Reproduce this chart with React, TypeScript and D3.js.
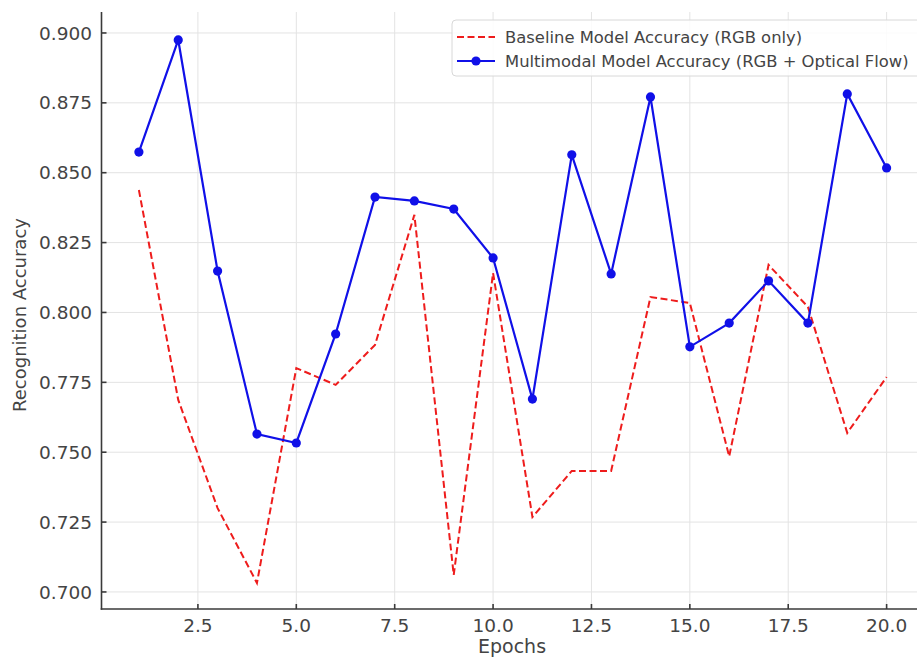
import React, { useEffect, useRef } from 'react';
import * as d3 from 'd3';

const epochs = d3.range(1, 21);
const baseline = [0.8438, 0.7687, 0.730, 0.7032, 0.7801, 0.7741, 0.7884, 0.8349, 0.7061, 0.8141,
  0.7268, 0.7433, 0.7433, 0.8055, 0.8034, 0.7485, 0.817, 0.802, 0.7569, 0.7769];
const multimodal = [0.8574, 0.8975, 0.8148, 0.7565, 0.7533, 0.7923, 0.8413, 0.8399, 0.837, 0.8195,
  0.769, 0.8564, 0.8138, 0.8771, 0.7877, 0.7962, 0.8113, 0.7962, 0.8782, 0.8517];
const xTicks = [2.5, 5.0, 7.5, 10.0, 12.5, 15.0, 17.5, 20.0];
const yTicks = [0.700, 0.725, 0.750, 0.775, 0.800, 0.825, 0.850, 0.875, 0.900];
const legendLabels = ['Baseline Model Accuracy (RGB only)', 'Multimodal Model Accuracy (RGB + Optical Flow)'];

const App = () => {
  const ref = useRef<SVGSVGElement>(null);

  useEffect(() => {
    const svg = d3.select(ref.current);
    svg.selectAll('*').remove();

    const width = 917, height = 658;
    const font = 'DejaVu Sans, sans-serif';
    const x = d3.scaleLinear().domain([0.05, 20.95]).range([101.5, 924]);
    const y = d3.scaleLinear().domain([0.6939, 0.9075]).range([609, 12]);

    svg.attr('width', width).attr('height', height);
    svg.append('rect').attr('width', width).attr('height', height).attr('fill', '#fff');

    // grid
    const grid = svg.append('g').attr('stroke', '#e3e3e3').attr('stroke-width', 1);
    grid.selectAll('.gx').data(xTicks).join('line')
      .attr('x1', d => x(d)).attr('x2', d => x(d)).attr('y1', 12).attr('y2', 609);
    grid.selectAll('.gy').data(yTicks).join('line')
      .attr('x1', 101.5).attr('x2', 924).attr('y1', d => y(d)).attr('y2', d => y(d));

    // axes
    const axis = svg.append('g').attr('stroke', '#3a3a3a').attr('stroke-width', 1.6);
    axis.append('line').attr('x1', 101.5).attr('x2', 101.5).attr('y1', 12).attr('y2', 609.8);
    axis.append('line').attr('x1', 100.7).attr('x2', 924).attr('y1', 609).attr('y2', 609);
    axis.selectAll('.tx').data(xTicks).join('line')
      .attr('x1', d => x(d)).attr('x2', d => x(d)).attr('y1', 609).attr('y2', 604);
    axis.selectAll('.ty').data(yTicks).join('line')
      .attr('x1', 101.5).attr('x2', 106.5).attr('y1', d => y(d)).attr('y2', d => y(d));

    svg.append('g').selectAll('text').data(xTicks).join('text')
      .attr('x', d => x(d)).attr('y', 632)
      .attr('text-anchor', 'middle')
      .attr('font-family', font).attr('font-size', 18.5).attr('fill', '#444')
      .text(d => d.toFixed(1));
    svg.append('g').selectAll('text').data(yTicks).join('text')
      .attr('x', 92).attr('y', d => y(d)).attr('dy', '0.36em')
      .attr('text-anchor', 'end')
      .attr('font-family', font).attr('font-size', 18.5).attr('fill', '#444')
      .text(d => d.toFixed(3));

    svg.append('text')
      .attr('x', 512).attr('y', 653).attr('text-anchor', 'middle')
      .attr('font-family', font).attr('font-size', 19).attr('fill', '#444')
      .text('Epochs');
    svg.append('text')
      .attr('transform', 'translate(26,315) rotate(-90)').attr('text-anchor', 'middle')
      .attr('font-family', font).attr('font-size', 18).attr('fill', '#444')
      .text('Recognition Accuracy');

    const line = d3.line<number>().x((_, i) => x(epochs[i])).y(d => y(d));

    svg.append('path').datum(baseline)
      .attr('d', line).attr('fill', 'none')
      .attr('stroke', '#ee1c1c').attr('stroke-width', 2)
      .attr('stroke-dasharray', '7,3.5');

    svg.append('path').datum(multimodal)
      .attr('d', line).attr('fill', 'none')
      .attr('stroke', '#1010e8').attr('stroke-width', 2.2);
    svg.append('g').selectAll('circle').data(multimodal).join('circle')
      .attr('cx', (_, i) => x(epochs[i])).attr('cy', d => y(d)).attr('r', 4.6)
      .attr('fill', '#1010e8');

    // legend
    const lg = svg.append('g');
    lg.append('rect').attr('x', 452).attr('y', 20).attr('width', 470).attr('height', 56)
      .attr('rx', 4).attr('fill', '#fff').attr('fill-opacity', 0.85)
      .attr('stroke', '#d8d8d8').attr('stroke-width', 1);
    lg.append('line').attr('x1', 457).attr('x2', 495).attr('y1', 37).attr('y2', 37)
      .attr('stroke', '#ee1c1c').attr('stroke-width', 2).attr('stroke-dasharray', '7,3.5');
    lg.append('line').attr('x1', 457).attr('x2', 495).attr('y1', 61).attr('y2', 61)
      .attr('stroke', '#1010e8').attr('stroke-width', 2.2);
    lg.append('circle').attr('cx', 476).attr('cy', 61).attr('r', 4.6).attr('fill', '#1010e8');
    lg.selectAll('text').data(legendLabels).join('text')
      .attr('x', 505).attr('y', (_, i) => 37 + i * 24).attr('dy', '0.36em')
      .attr('font-family', font).attr('font-size', 16.4).attr('fill', '#444')
      .text(d => d);
  }, []);

  return <svg ref={ref} style={{ position: 'absolute', left: 0, top: 0 }}></svg>;
};

export default App;
